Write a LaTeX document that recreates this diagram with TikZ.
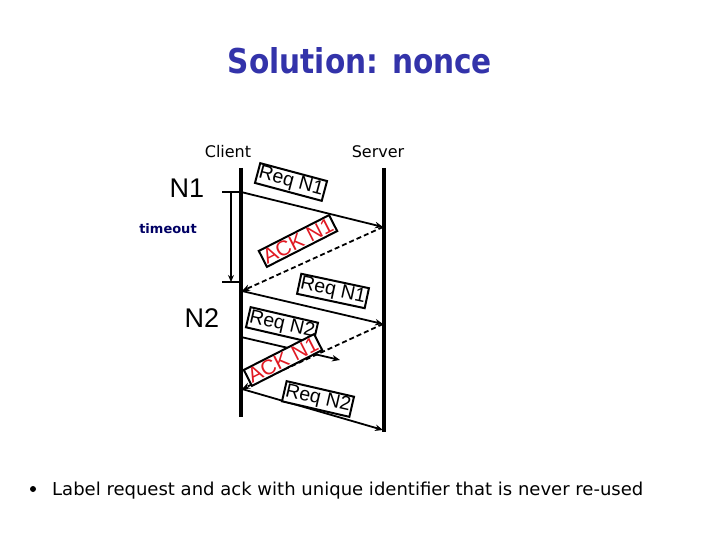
\documentclass[tikz,border=0pt]{standalone}
\usepackage{fontspec}
\setmainfont{DejaVu Sans}
\newfontfamily\arialf{Liberation Sans}
\usetikzlibrary{arrows.meta}
\definecolor{titleblue}{RGB}{51,51,170}
\definecolor{ackred}{RGB}{225,25,35}
\definecolor{tonavy}{RGB}{0,0,100}
\begin{document}
\begin{tikzpicture}[x=1pt,y=-1pt,
  lifeline/.style={line width=3.5pt},
  msg/.style={line width=1.8pt,-{Stealth[length=8pt,width=6.5pt]}},
  ackmsg/.style={msg,dash pattern=on 5pt off 3pt},
  tick/.style={line width=1.2pt},
  lbl/.style={draw,line width=2pt,fill=white,inner sep=1.5pt,font=\arialf\fontsize{19.5}{19.5}\selectfont},
  acklbl/.style={lbl,text=ackred,font=\arialf\fontsize{21}{21}\selectfont},
  party/.style={font=\fontsize{16}{16}\selectfont},
  nlbl/.style={font=\arialf\fontsize{27}{27}\selectfont}]
\useasboundingbox (0,0) rectangle (720,540);
% title
\node[text=titleblue] (title) at (360,61) {\resizebox{264pt}{26pt}{\bfseries Solution: nonce}};
% lifelines
\coordinate (ctop) at (241,168);
\coordinate (cbot) at (241,417);
\coordinate (stop) at (384,168);
\coordinate (sbot) at (384,432);
\draw[lifeline] (ctop) -- (cbot);
\draw[lifeline] (stop) -- (sbot);
\node[party] (client) at (228,152) {Client};
\node[party] (server) at (378,152) {Server};
\node[nlbl] (n1) at (187,188) {N1};
\node[nlbl] (n2) at (202,318) {N2};
\node[text=tonavy,font=\bfseries\fontsize{13}{13}\selectfont] (timeout) at (168,229) {timeout};
% message end points
\coordinate (c1) at (241,192);
\coordinate (s1) at (383,227);
\coordinate (c2) at (242,291);
\coordinate (s2) at (383,324);
\coordinate (c3) at (241,337);
\coordinate (lost) at (340,360);
\coordinate (c4) at (242,389);
\coordinate (s3) at (383,430);
% timeout
\coordinate (t1) at (222,192);
\coordinate (t2) at (222,282);
\coordinate (t2e) at (241,282);
\coordinate (ta) at (231,192);
\coordinate (tb) at (231,282);
\draw[tick] (t1) -- (c1);
\draw[tick] (t2) -- (t2e);
\draw[tick,-{Stealth[length=7pt,width=6pt]}] (ta) -- (tb);
% messages
\draw[msg] (c1) -- (s1);
\draw[ackmsg] (s1) -- (c2);
\draw[msg] (c2) -- (s2);
\draw[msg] (c3) -- (lost);
\draw[ackmsg] (s2) -- (c4);
\draw[msg] (c4) -- (s3);
% labels
\node[lbl,rotate=-15] (l1) at (291,182) {Req N1};
\node[acklbl,rotate=27] (l2) at (298,241) {ACK N1};
\node[lbl,rotate=-12] (l3) at (333,291) {Req N1};
\node[lbl,rotate=-13] (l4) at (282,325) {Req N2};
\node[acklbl,rotate=27] (l5) at (283,360) {ACK N1};
\node[lbl,rotate=-13] (l6) at (318,399) {Req N2};
% bullet
\node[circle,fill,inner sep=0pt,minimum size=6pt] (dot) at (33,489) {};
\node[anchor=base west,inner sep=0pt] (bullet) at (52,495) {\resizebox{591pt}{13.5pt}{Label request and ack with unique identifier that is never re-used}};
\end{tikzpicture}
\end{document}
